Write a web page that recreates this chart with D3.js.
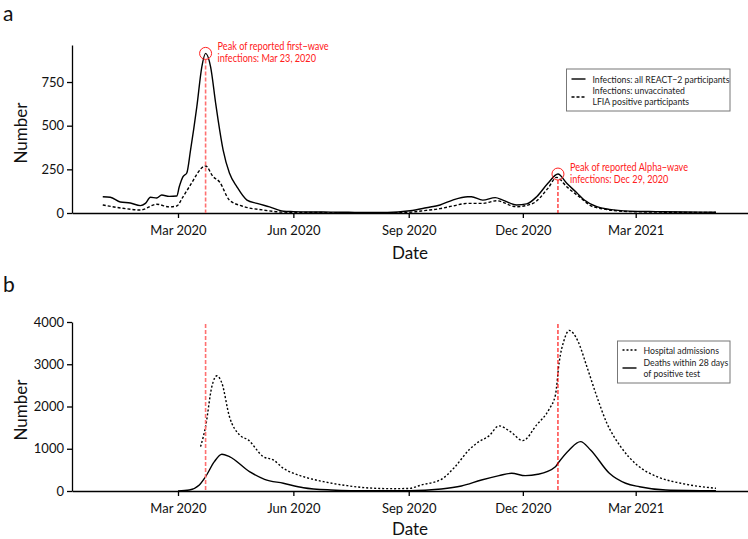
<!DOCTYPE html>
<html><head><meta charset="utf-8">
<script src="https://cdn.jsdelivr.net/npm/d3@7"></script>
<style>
body{margin:0;background:#fff;}
svg{font-family:Lato,"Open Sans",sans-serif;}
</style></head>
<body><svg id="c" width="748" height="539"></svg>
<script>
// ---- Data ----
const xTickLabels = ["2020-03-01","2020-06-01","2020-09-01","2020-12-01","2021-03-01"];
const yTicksA = [0,250,500,750];
const yTicksB = [0,1000,2000,3000,4000];

const allDates = ["2020-01-01","2020-01-07","2020-01-15","2020-01-23","2020-01-31","2020-02-04","2020-02-08","2020-02-13","2020-02-17","2020-02-23","2020-02-29","2020-03-02","2020-03-05","2020-03-08","2020-03-11","2020-03-16","2020-03-20","2020-03-23","2020-03-27","2020-03-31","2020-04-02","2020-04-06","2020-04-11","2020-04-17","2020-04-25","2020-05-03","2020-05-13","2020-05-24","2020-06-01","2020-06-15","2020-07-01","2020-07-15","2020-08-01","2020-08-15","2020-09-02","2020-09-15","2020-09-26","2020-10-06","2020-10-18","2020-10-21","2020-10-30","2020-11-09","2020-11-15","2020-11-26","2020-12-04","2020-12-12","2020-12-21","2020-12-29","2021-01-05","2021-01-13","2021-01-19","2021-01-29","2021-02-08","2021-02-24","2021-03-17","2021-04-10","2021-05-04"];
const allValues = [93,90,63,57,42,55,90,86,103,95,97,150,208,229,360,608,837,914,837,630,532,360,229,150,74,55,35,10,8,6,5,4,3,3,13,30,46,74,93,93,74,88,74,46,52,93,170,223,170,116,74,36,21,11,8,6,4];

const lfiaDates = ["2020-01-01","2020-01-17","2020-01-31","2020-02-13","2020-02-23","2020-02-29","2020-03-05","2020-03-10","2020-03-23","2020-03-29","2020-04-03","2020-04-11","2020-04-21","2020-05-08","2020-05-24","2020-06-15","2020-07-15","2020-08-15","2020-09-01","2020-09-15","2020-09-26","2020-10-06","2020-10-18","2020-10-30","2020-11-10","2020-11-26","2020-12-09","2020-12-21","2020-12-28","2021-01-05","2021-01-15","2021-01-26","2021-02-24","2021-04-03","2021-05-04"];
const lfiaValues = [46,27,17,50,35,40,93,150,269,208,179,74,40,17,5,3,2,2,4,15,25,40,55,55,70,36,55,141,204,150,93,36,8,4,3];

const hospDates = ["2020-03-19","2020-03-23","2020-03-28","2020-04-01","2020-04-05","2020-04-11","2020-04-19","2020-04-26","2020-05-08","2020-05-16","2020-05-24","2020-06-01","2020-06-09","2020-06-25","2020-07-14","2020-08-01","2020-08-20","2020-09-01","2020-09-11","2020-09-27","2020-10-08","2020-10-19","2020-10-27","2020-11-04","2020-11-12","2020-11-21","2020-12-01","2020-12-12","2020-12-22","2020-12-27","2020-12-30","2021-01-03","2021-01-07","2021-01-14","2021-01-21","2021-01-29","2021-02-06","2021-02-17","2021-03-02","2021-03-18","2021-04-06","2021-05-04"];
const hospValues = [1051,1525,2473,2727,2554,1762,1328,1209,813,735,538,420,339,221,126,70,55,60,142,277,576,972,1169,1304,1541,1406,1193,1565,1937,2276,3050,3581,3801,3540,2948,2236,1605,1051,617,339,183,64];

const deathDates = ["2020-03-01","2020-03-10","2020-03-18","2020-03-23","2020-03-30","2020-04-05","2020-04-11","2020-04-27","2020-05-09","2020-05-24","2020-06-09","2020-07-01","2020-07-17","2020-09-01","2020-09-27","2020-10-13","2020-10-29","2020-11-12","2020-11-22","2020-12-03","2020-12-13","2020-12-27","2020-12-29","2021-01-07","2021-01-16","2021-01-24","2021-02-08","2021-02-21","2021-03-04","2021-03-25","2021-05-04"];
const deathValues = [0,24,142,339,695,870,813,458,277,183,78,24,10,5,47,119,261,363,420,363,396,576,657,972,1169,972,420,183,102,24,5];

const peakDates = ["2020-03-23","2020-12-29"];
const peakValues = [914,223];
const peakText = [["Peak of reported first\u2212wave","infections: Mar 23, 2020"],["Peak of reported Alpha\u2212wave","infections: Dec 29, 2020"]];
const legendA = ["Infections: all REACT\u22122 participants",["Infections: unvaccinated","LFIA positive participants"]];
const legendB = ["Hospital admissions",["Deaths within 28 days","of positive test"]];

// ---- Scales ----
const P = d3.timeParse("%Y-%m-%d");
const svg = d3.select("#c");
const x0 = d3.scaleTime().domain([P("2020-03-01"),P("2021-03-01")]).range([178,635.7]);
const x = d3.scaleTime().domain([x0.invert(72), x0.invert(748)]).range([72,748]);
const yA = d3.scaleLinear().domain([0,962]).range([213,45]);
const yB = d3.scaleLinear().domain([0,4000]).range([491,322]);

function drawAxes(y, ticks, bottom){
  const gx = svg.append("g").attr("transform",`translate(0,${bottom})`)
    .call(d3.axisBottom(x).tickValues(xTickLabels.map(P)).tickFormat(d3.timeFormat("%b %Y")).tickSize(5).tickSizeOuter(0));
  const gy = svg.append("g").attr("transform","translate(72,0)")
    .call(d3.axisLeft(y).tickValues(ticks).tickFormat(d3.format("d")).tickSize(5).tickSizeOuter(0));
  [gx,gy].forEach(g=>{
    g.selectAll("path,line").attr("stroke","#000").attr("stroke-width",1.3);
    g.selectAll("text").attr("font-size",13).attr("font-family","Lato, sans-serif").attr("fill","#111");
  });
  gx.selectAll("text").attr("dy","1.05em");
}
drawAxes(yA, yTicksA, 213);
drawAxes(yB, yTicksB, 491);

function line(y, dates, vals, dash){
  const data = dates.map((d,i)=>[P(d),vals[i]]);
  svg.append("path").datum(data)
    .attr("d", d3.line().x(d=>x(d[0])).y(d=>y(d[1])).curve(d3.curveMonotoneX))
    .attr("fill","none").attr("stroke","#000").attr("stroke-width",1.4)
    .attr("stroke-dasharray", dash||null);
}
line(yA, allDates, allValues);
line(yA, lfiaDates, lfiaValues, "3,2");
line(yB, hospDates, hospValues, "2,2");
line(yB, deathDates, deathValues);

// narrow text helper (reference font is condensed)
function ntext(tx, ty, lines, size, fill, lh){
  const g = svg.append("g").attr("transform",`translate(${tx},${ty}) scale(0.87,1)`);
  lines.forEach((s,j)=>g.append("text").attr("x",0).attr("y",j*lh)
    .attr("font-size",size).attr("fill",fill).text(s));
}

// peak annotations
peakDates.forEach((d,i)=>{
  const px = x(P(d)), py = yA(peakValues[i]);
  const col = i===0?"#ff7070":"#ff0000", sw = i===0?1.6:1.1;
  svg.append("line").attr("x1",px).attr("x2",px).attr("y1",py+6).attr("y2",213)
    .attr("stroke",col).attr("stroke-width",sw).attr("stroke-dasharray","4,2");
  svg.append("circle").attr("cx",px).attr("cy",py).attr("r",6)
    .attr("fill","none").attr("stroke","#ff2020").attr("stroke-width",1);
  ntext(px+12, py-3, peakText[i], 10.5, "#ff2020", 12);
  svg.append("line").attr("x1",px).attr("x2",px).attr("y1",324).attr("y2",491)
    .attr("stroke",col).attr("stroke-width",sw).attr("stroke-dasharray","4,2");
});

// axis titles & panel labels
[[133,259],[410,535]].forEach(([cy,dy])=>{
  svg.append("text").attr("transform",`translate(27,${cy}) rotate(-90)`).attr("text-anchor","middle")
    .attr("font-size",17).attr("fill","#111").text("Number");
  svg.append("text").attr("x",410).attr("y",dy).attr("text-anchor","middle")
    .attr("font-size",17).attr("fill","#111").text("Date");
});
svg.append("text").attr("x",3).attr("y",21).attr("font-size",21).attr("fill","#111").text("a");
svg.append("text").attr("x",3).attr("y",292).attr("font-size",21).attr("fill","#111").text("b");

// legends
function legend(x1,y1,w,h,items){
  svg.append("rect").attr("x",x1).attr("y",y1).attr("width",w).attr("height",h)
    .attr("fill","#fff").attr("stroke","#777").attr("stroke-width",1);
  items.forEach(it=>{
    svg.append("line").attr("x1",x1+5).attr("x2",x1+19).attr("y1",it.ly).attr("y2",it.ly)
      .attr("stroke","#000").attr("stroke-width",1.4).attr("stroke-dasharray",it.dash||null);
    const lines = Array.isArray(it.text)?it.text:[it.text];
    ntext(x1+26, it.ty, lines, 10, "#222", 11.5);
  });
}
legend(566.5,69,163.5,42,[{text:legendA[0],ly:79,ty:82.5},{text:legendA[1],ly:97,ty:93.5,dash:"3,2"}]);
legend(617.5,341,112.5,42,[{text:legendB[0],ly:350,ty:353.5,dash:"2,2"},{text:legendB[1],ly:368,ty:365.5}]);
</script></body></html>
